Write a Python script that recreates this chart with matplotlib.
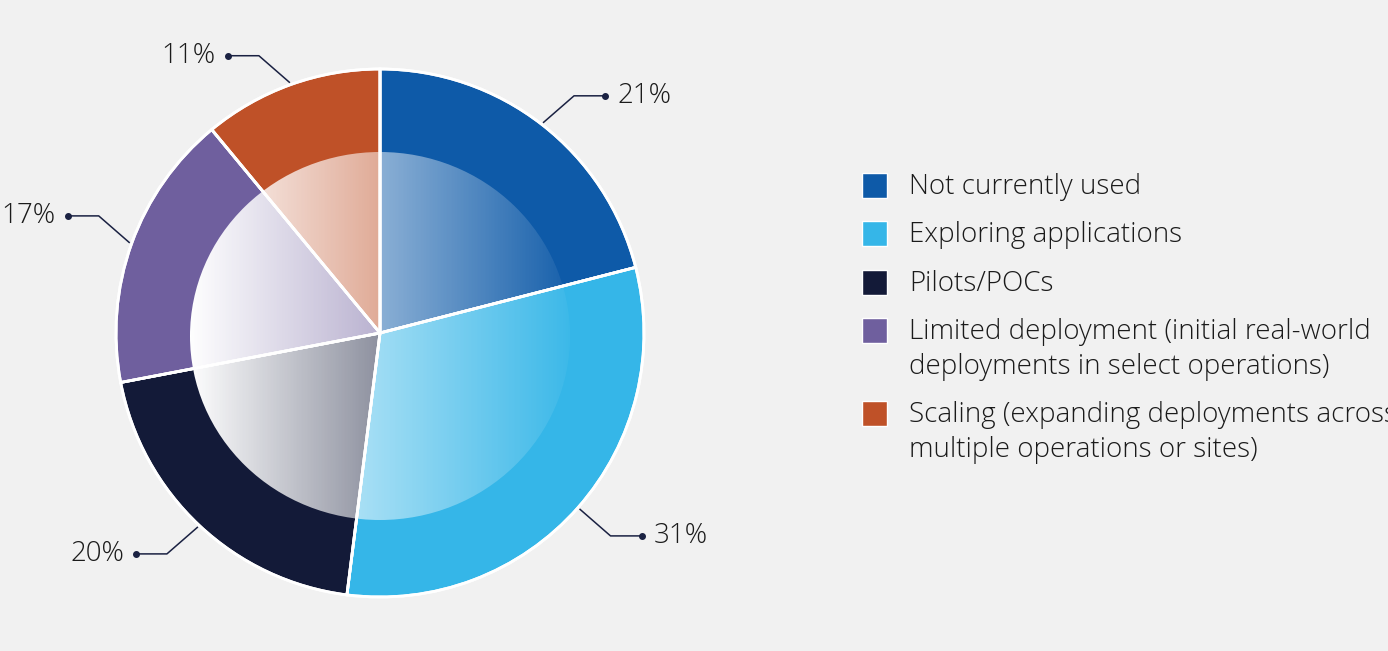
import matplotlib
matplotlib.use("Agg")
import matplotlib.pyplot as plt
from matplotlib.patches import Ellipse, Rectangle
import numpy as np

categories = ["Not currently used", "Exploring applications", "Pilots/POCs",
              "Limited deployment (initial real-world\ndeployments in select operations)",
              "Scaling (expanding deployments across\nmultiple operations or sites)"]
shares = [21, 31, 20, 17, 11]
colors = ["#0e5aa8", "#35b6e8", "#131a38", "#6f5f9e", "#bf5128"]

W, H = 1388, 651
BG = "#f1f1f1"
INK = "#1b1b1b"
LEADER = "#1a2142"

plt.rcParams["font.family"] = ["Open Sans", "DejaVu Sans"]

fig = plt.figure(figsize=(W / 100, H / 100), dpi=100, facecolor=BG)
ax = fig.add_axes([0, 0, 1, 1])

cx, cy, R = 380, H - 333, 264

# filled wedges
wedges, _ = ax.pie(shares, colors=colors, startangle=90, counterclock=False,
                   center=(cx, cy), radius=R, frame=True,
                   wedgeprops=dict(edgecolor="white", linewidth=2))

# white-to-clear horizontal fade over the inner disc
rx, ry, icy = 190, 184, H - 336
grad = np.zeros((2, 256, 4))
grad[..., :3] = 1.0
grad[..., 3] = np.linspace(1.0, 0.04, 256)
disc = Ellipse((cx, icy), 2 * rx, 2 * ry, facecolor="none", edgecolor="none")
ax.add_patch(disc)
im = ax.imshow(grad, extent=[cx - rx, cx + rx, icy - ry, icy + ry],
               aspect="auto", interpolation="bilinear", zorder=3)
im.set_clip_path(disc)

# separators redrawn on top of the fade
ax.pie(shares, colors=["none"] * len(shares), startangle=90, counterclock=False,
       center=(cx, cy), radius=R, frame=True,
       wedgeprops=dict(edgecolor="white", linewidth=2, zorder=4))

ax.set_xlim(0, W)
ax.set_ylim(0, H)
ax.set_aspect("equal")
ax.axis("off")

# percentage callouts with elbow leaders
cum = np.cumsum([0] + shares[:-1])
for val, start in zip(shares, cum):
    ang = np.deg2rad(90 - (start + val / 2) * 3.6)
    sx = 1 if np.cos(ang) >= 0 else -1
    sy = 1 if np.sin(ang) >= 0 else -1
    p0 = (cx + (R + 2) * np.cos(ang), cy + (R + 2) * np.sin(ang))
    p1 = (p0[0] + sx * 31, p0[1] + sy * 27)
    p2 = (p1[0] + sx * 31, p1[1])
    ax.plot([p0[0], p1[0], p2[0]], [p0[1], p1[1], p2[1]], color=LEADER,
            lw=1.1, zorder=5, solid_capstyle="butt")
    ax.plot(p2[0], p2[1], "o", color=LEADER, ms=4, zorder=5)
    ax.text(p2[0] + sx * 12, p2[1], f"{val}%", fontsize=20, color=INK,
            ha="left" if sx > 0 else "right", va="center", fontweight="light")

# legend: square marker plus one baseline per text line
ly = [H - 185, H - 233, H - 282, H - 330, H - 413]
for label, col, y in zip(categories, colors, ly):
    ax.add_patch(Rectangle((862, y - 12.5), 25, 25, facecolor=col,
                           edgecolor="white", lw=1, zorder=5))
    for i, line in enumerate(label.split("\n")):
        ax.text(909, y - 9 - 35 * i, line, fontsize=20, color=INK,
                ha="left", va="baseline", fontweight="light")

fig.savefig("out.png", dpi=100, facecolor=BG)
